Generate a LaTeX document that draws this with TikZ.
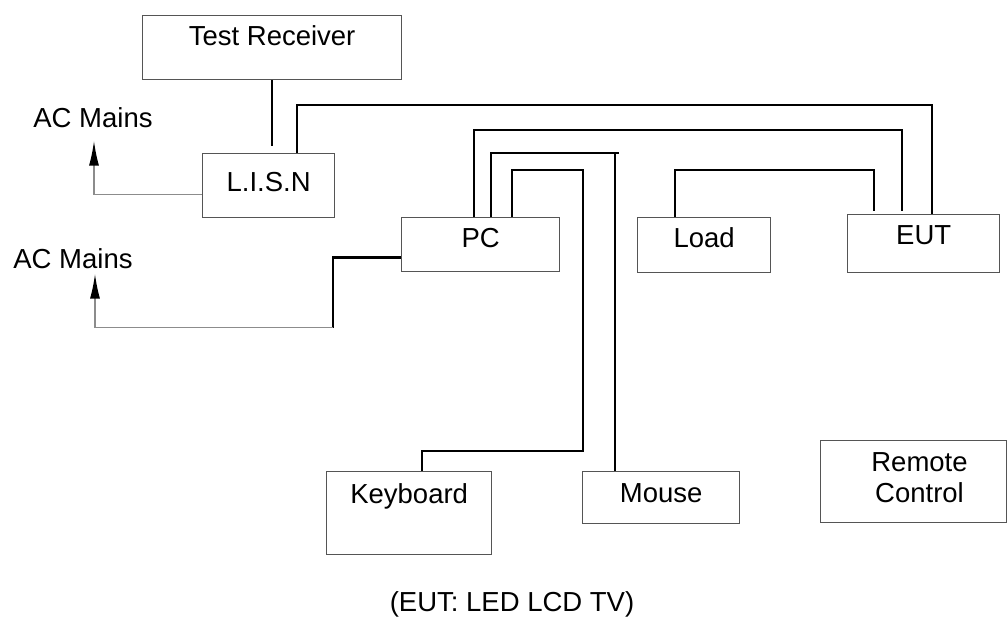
\documentclass[tikz,border=0pt]{standalone}
\usepackage{fontspec}
\setmainfont{Liberation Sans}
\usetikzlibrary{positioning,arrows.meta}
\definecolor{boxgray}{HTML}{555555}
\definecolor{mainsgray}{HTML}{8C8C8C}
\tikzset{
	box/.style={draw=boxgray, line width=1.3pt, anchor=north west, inner sep=0pt},
	lbl/.style={inner sep=0pt, font=\fontsize{27.5}{31}\selectfont},
	wire/.style={line width=2.4pt},
	mains/.style={draw=mainsgray, line width=1.6pt, -{Latex[length=25pt,width=10pt,color=black]}}
}
\begin{document}
\begin{tikzpicture}[x=1pt,y=-1pt]
	\useasboundingbox (0,0) rectangle (1007,634);
	% boxes
	\node[box, minimum width=259pt, minimum height=64pt] (TR) at (142,15) {};
	\node[box, minimum width=132pt, minimum height=64pt] (LISN) at (202,153) {};
	\node[box, minimum width=158pt, minimum height=54pt] (PC) at (401,217) {};
	\node[box, minimum width=133pt, minimum height=55pt] (LD) at (637,217) {};
	\node[box, minimum width=152pt, minimum height=58pt] (EUT) at (847,214) {};
	\node[box, minimum width=165pt, minimum height=83pt] (KB) at (326,471) {};
	\node[box, minimum width=157pt, minimum height=52pt] (MS) at (582,471) {};
	\node[box, minimum width=186pt, minimum height=82pt] (RC) at (820,440) {};
	\node[lbl, below=10pt of TR.north] {Test Receiver};
	\node[lbl, below=19pt of LISN.north] {L.I.S.N};
	\node[lbl, below=11pt of PC.north] {PC};
	\node[lbl, below=10pt of LD.north] {Load};
	\node[lbl, below=11pt of EUT.north] {EUT};
	\node[lbl, below=12pt of KB.north] {Keyboard};
	\node[lbl, below=12pt of MS.north] {Mouse};
	\node[lbl, align=center, anchor=north] at (919.5,452) {Remote\\Control};
	\node[lbl, anchor=base] (ac1) at (93,127) {AC Mains};
	\node[lbl, anchor=base] (ac2) at (73,268) {AC Mains};
	\node[lbl] (cap) at (512,604) {(EUT: LED LCD TV)};
	% cables
	\draw[wire] (TR.south) -- ([yshift=7pt]LISN.north -| TR.south);
	\draw[wire] ([xshift=95pt]LISN.north west) -- ++(0,-48) -| ([xshift=85pt]EUT.north west);
	\draw[wire] ([xshift=73pt]PC.north west) -- ++(0,-87) -| ([xshift=55pt,yshift=3pt]EUT.north west);
	\draw[wire] ([xshift=90pt]PC.north west) -- ++(0,-64) -- ++(128,0);
	\draw[wire] ([xshift=33pt]MS.north west) -- ++(0,-318);
	\draw[wire] ([xshift=111pt]PC.north west) -- ++(0,-47) -- ++(71,0) -- ++(0,281) -| ([xshift=96pt]KB.north west);
	\draw[wire] ([xshift=38pt]LD.north west) -- ++(0,-47) -| ([xshift=27pt,yshift=3pt]EUT.north west);
	% mains
	\draw[wire] ([yshift=-13pt]PC.west) -- ++(-68,0) -- ++(0,70) coordinate (pm);
	\draw[mains] (pm) -- ++(-238,0) -- ++(0,-54);
	\draw[mains] ([yshift=-9pt]LISN.west) -- ++(-108,0) -- ++(0,-54);
\end{tikzpicture}
\end{document}
